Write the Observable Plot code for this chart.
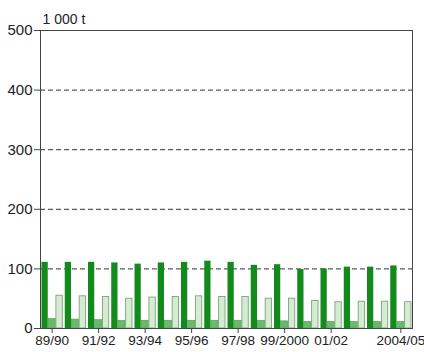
<!DOCTYPE html>
<html>
<head>
<meta charset="utf-8">
<script src="https://cdn.jsdelivr.net/npm/d3@7"></script>
<script src="https://cdn.jsdelivr.net/npm/@observablehq/plot@0.6"></script>
<style>
  body { margin: 0; background: #fff; }
  #chart svg { display: block; }
</style>
</head>
<body>
<div id="chart"></div>
<script>
const years = ["89/90","90/91","91/92","92/93","93/94","94/95","95/96","96/97","97/98","98/99","99/2000","00/01","01/02","02/03","03/04","2004/05"];
const labelledYears = ["89/90","91/92","93/94","95/96","97/98","99/2000","01/02","2004/05"];
const seriesA = [111,111,111,110,108,110,111,113,111,106,107,99,100,103,103,105];
const seriesB = [16,15,14,13,13,13,13,13,13,13,12,11,11,11,11,11];
const seriesC = [55,54,53,50,52,53,54,53,53,50,50,46,44,45,45,44];
const yTicks = [0,100,200,300,400,500];
const gridValues = [100,200,300,400];
const unitLabel = "1 000 t";

const key = (y, k) => y + "|" + k;
const domain = years.flatMap(y => [key(y,0), key(y,1), key(y,2)]);
const rowsA = years.map((y,i) => ({k: key(y,0), v: seriesA[i]}));
const rowsB = years.map((y,i) => ({k: key(y,1), v: seriesB[i]}));
const rowsC = years.map((y,i) => ({k: key(y,2), v: seriesC[i]}));

const chart = Plot.plot({
  width: 424,
  height: 352,
  marginLeft: 40,
  marginRight: 12,
  marginTop: 30,
  marginBottom: 24,
  style: {fontFamily: "'Liberation Sans', Arial, sans-serif", fontSize: "13px", color: "#222", background: "#fff"},
  x: {type: "band", domain, padding: 0, axis: null},
  y: {domain: [0, 500], axis: null},
  marks: [
    Plot.ruleY(gridValues, {stroke: "#333", strokeDasharray: "5,3", strokeWidth: 1}),
    Plot.barY(rowsA, {x: "k", y: "v", fill: "#128a1c", insetLeft: 1.5, insetRight: 0}),
    Plot.barY(rowsB, {x: "k", y: "v", fill: "#6bba6b", stroke: "#4f9a4f", strokeWidth: 0.6, insetLeft: 0.3, insetRight: 0.3}),
    Plot.barY(rowsC, {x: "k", y: "v", fill: "#d4ecd1", stroke: "#6f9a6f", strokeWidth: 0.8, insetLeft: 0.4, insetRight: 1}),
    Plot.frame({stroke: "#444", strokeWidth: 1}),
    Plot.axisY({ticks: yTicks, tickSize: 6, tickPadding: 2, fontSize: 15, label: null, stroke: "#444"}),
    Plot.axisX({ticks: labelledYears.map(y => key(y,1)), tickFormat: d => d.split("|")[0], tickSize: 5, tickPadding: 2, fontSize: 13.5, label: null, stroke: "#444"}),
    Plot.text([unitLabel], {text: d => d, frameAnchor: "top-left", lineAnchor: "middle", dx: 2, dy: -11, fontSize: 14, textAnchor: "start", fill: "#222"})
  ]
});
document.getElementById("chart").appendChild(chart);
</script>
</body>
</html>
